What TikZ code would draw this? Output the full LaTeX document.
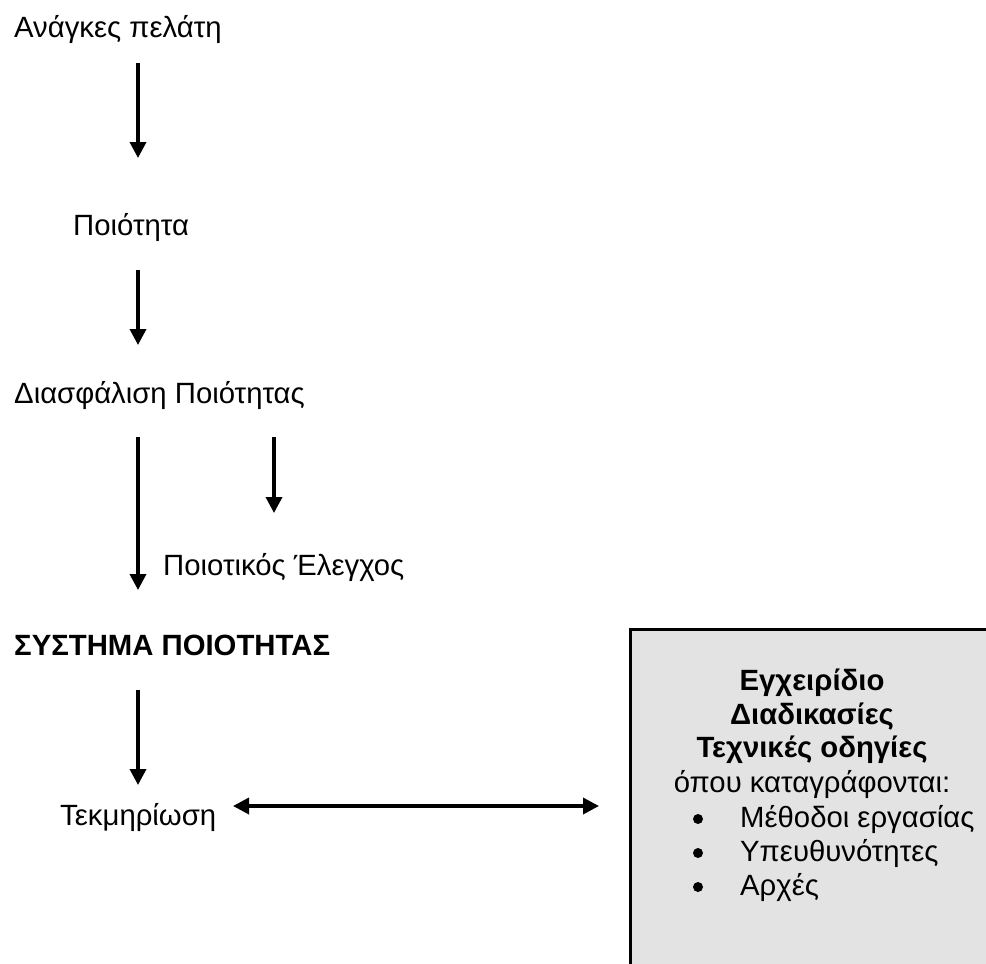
\documentclass[tikz,border=0pt]{standalone}
\usepackage{fontspec}
\setmainfont{Liberation Sans}
\usetikzlibrary{arrows.meta}
\definecolor{panelgray}{HTML}{E3E3E3}
\tikzset{
  lbl/.style={anchor=base west, inner sep=0pt, font=\fontsize{29.3}{35}\selectfont},
  flow/.style={line width=3.5pt, -{Triangle[length=16pt,width=16pt]}},
  both/.style={line width=3.5pt, {Triangle[length=16pt,width=16pt]}-{Triangle[length=16pt,width=16pt]}},
  boxline/.style={line width=3pt},
  boxtext/.style={anchor=base, inner sep=0pt, font=\fontsize{29.3}{35}\selectfont},
  boxhead/.style={boxtext, font=\fontsize{29.3}{35}\selectfont\bfseries}
}
\begin{document}
\begin{tikzpicture}[x=1pt,y=-1pt]
  \useasboundingbox (0,0) rectangle (986,964);

  % document panel on the right (runs off the page)
  \fill[panelgray] (630,629) rectangle (986,964);
  \draw[boxline] (630,964) -- (630,629) -- (986,629);

  % left-hand chain of labels
  \node[lbl] (needs)  at (14,37)  {Ανάγκες πελάτη};
  \node[lbl] (qual)   at (73,235) {Ποιότητα};
  \node[lbl] (qa)     at (14,403) {Διασφάλιση Ποιότητας};
  \node[lbl] (qc)     at (163,575) {Ποιοτικός Έλεγχος};
  \node[lbl, font=\fontsize{29.3}{35}\selectfont\bfseries] (qs) at (14,655) {ΣΥΣΤΗΜΑ ΠΟΙΟΤΗΤΑΣ};
  \node[lbl] (doc)    at (60,825) {Τεκμηρίωση};

  % panel contents
  \node[boxhead] (man)  at (812,690) {Εγχειρίδιο};
  \node[boxhead] (proc) at (812,724) {Διαδικασίες};
  \node[boxhead] (tech) at (812,757) {Τεχνικές οδηγίες};
  \node[boxtext] (where) at (812,792) {όπου καταγράφονται:};
  \foreach \y/\t/\n in {827/Μέθοδοι εργασίας/ia, 861/Υπευθυνότητες/ib, 895/Αρχές/ic}{
    \fill (698,\y-8) circle (5pt);
    \node[lbl] (\n) at (740,\y) {\t};
  }

  % arrow end points
  \coordinate (a1s) at (138,63);  \coordinate (a1e) at (138,158);
  \coordinate (a2s) at (138,270); \coordinate (a2e) at (138,345);
  \coordinate (a3s) at (138,437); \coordinate (a3e) at (138,590);
  \coordinate (a4s) at (274,437); \coordinate (a4e) at (274,513);
  \coordinate (a5s) at (138,690); \coordinate (a5e) at (138,785);
  \coordinate (dl)  at (233,806); \coordinate (dr)  at (599,806);

  \draw[flow] (a1s) -- (a1e);
  \draw[flow] (a2s) -- (a2e);
  \draw[flow] (a3s) -- (a3e);
  \draw[flow] (a4s) -- (a4e);
  \draw[flow] (a5s) -- (a5e);
  \draw[both] (dl) -- (dr);
\end{tikzpicture}
\end{document}
